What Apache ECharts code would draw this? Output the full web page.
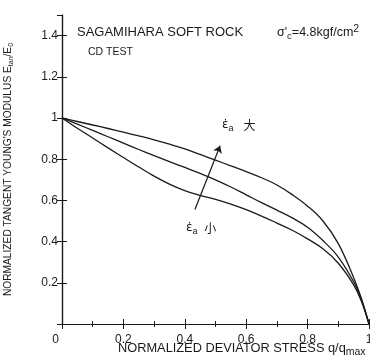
<!DOCTYPE html>
<html>
<head>
<meta charset="utf-8">
<script src="https://cdn.jsdelivr.net/npm/echarts@6/dist/echarts.min.js"></script>
<style>
	html, body { margin: 0; background: #fff; }
	#chart { width: 370px; height: 360px; }
</style>
</head>
<body>
<div id="chart"></div>
<script>
	// 三条曲线 (q/qmax, Etan/E0)
	var stress = [0,0.05,0.1,0.15,0.2,0.25,0.3,0.35,0.4,0.45,0.5,0.55,0.6,0.65,0.7,0.75,0.8,0.85,0.9,0.95,0.975,1];
	var modulusFast = [1,0.983,0.966,0.949,0.931,0.913,0.894,0.873,0.85,0.823,0.795,0.768,0.74,0.71,0.675,0.628,0.572,0.5,0.39,0.225,0.125,0];
	var modulusMid = [1,0.97,0.94,0.909,0.878,0.847,0.817,0.788,0.76,0.731,0.7,0.665,0.627,0.589,0.553,0.515,0.47,0.405,0.325,0.205,0.118,0];
	var modulusSlow = [1,0.95,0.903,0.855,0.808,0.762,0.718,0.679,0.647,0.624,0.605,0.582,0.555,0.524,0.49,0.455,0.413,0.365,0.295,0.19,0.112,0];
	var arrowFrom = [0.433, 0.556];
	var arrowTo = [0.515, 0.865];
	var xTickLabels = ['0', '0.2', '0.4', '0.6', '0.8', '1'];

	var font = '"Liberation Sans", Arial, "Noto Sans CJK JP", sans-serif';
	var ink = '#1a1a1a';

	var chart = echarts.init(document.getElementById('chart'));

	function makeLine(ys, withArrow) {
		var s = {
			type: 'line',
			data: stress.map(function (x, i) { return [x, ys[i]]; }),
			smooth: 0.4,
			showSymbol: false,
			symbol: 'none',
			lineStyle: { color: ink, width: 1.3 },
			silent: true
		};
		if (withArrow) {
			s.markLine = {
				silent: true,
				symbol: ['none', 'arrow'],
				symbolSize: 7,
				label: { show: false },
				lineStyle: { type: 'solid', color: ink, width: 1.2 },
				data: [[{ coord: arrowFrom }, { coord: arrowTo }]]
			};
		}
		return s;
	}

	var epsRich = {
		e: { fontSize: 12, fontFamily: '"DejaVu Sans", sans-serif', lineHeight: 16 },
		s: { fontSize: 9, verticalAlign: 'bottom', lineHeight: 16, fontFamily: font },
		k: { fontSize: 12, fontFamily: '"Noto Sans CJK JP", sans-serif', lineHeight: 16 }
	};

	var option = {
		animation: false,
		backgroundColor: '#fff',
		textStyle: { fontFamily: font },
		grid: { left: 62, right: 1, top: 15, bottom: 36, outerBoundsMode: 'none' },
		xAxis: [{
			type: 'value',
			min: 0, max: 1, interval: 0.2,
			axisLine: { lineStyle: { color: ink, width: 1.2 } },
			axisTick: { inside: true, length: 5, lineStyle: { color: ink } },
			minorTick: { show: true, splitNumber: 2, length: 3, lineStyle: { color: ink } },
			splitLine: { show: false },
			axisLabel: {
				color: ink, fontSize: 12, margin: 10, fontFamily: font,
				formatter: function (v) {
					var i = Math.round(v / 0.2);
					if (i === 0) return '{o|' + xTickLabels[0] + '}';
					return xTickLabels[i];
				},
				rich: { o: { fontSize: 12, padding: [0, 13, 0, 0], fontFamily: font, color: ink } }
			}
		}, {
			type: 'value', position: 'top',
			min: 0, max: 1, interval: 0.2,
			axisLine: { lineStyle: { color: ink, width: 1.2 } },
			axisTick: { inside: true, length: 5, lineStyle: { color: ink } },
			minorTick: { show: true, splitNumber: 2, length: 3, lineStyle: { color: ink } },
			splitLine: { show: false },
			axisLabel: { show: false }
		}],
		yAxis: [{
			type: 'value',
			min: 0, max: 1.5, interval: 0.2,
			name: "NORMALIZED TANGENT YOUNG'S MODULUS E{s|tan}/E{s|0}",
			nameLocation: 'middle',
			nameGap: 47,
			nameRotate: 90,
			nameTextStyle: {
				color: ink, fontSize: 10.2, fontFamily: font,
				rich: { s: { fontSize: 7, verticalAlign: 'bottom', lineHeight: 13, fontFamily: font, color: ink } }
			},
			axisLine: { lineStyle: { color: ink, width: 1.2 } },
			axisTick: { inside: true, length: 5, lineStyle: { color: ink } },
			splitLine: { show: false },
			axisLabel: { color: ink, fontSize: 12, margin: 4, showMinLabel: false, showMaxLabel: false, fontFamily: font }
		}, {
			type: 'value', position: 'right',
			min: 0, max: 1.5, interval: 0.2,
			axisLine: { lineStyle: { color: ink, width: 1.2 } },
			axisTick: { inside: true, length: 5, lineStyle: { color: ink } },
			splitLine: { show: false },
			axisLabel: { show: false }
		}],
		graphic: [
			{ type: 'text', left: 77, top: 26, style: { text: 'SAGAMIHARA SOFT ROCK', font: '13px ' + font, fill: ink } },
			{ type: 'text', left: 88, top: 47, style: { text: 'CD TEST', font: '10.5px ' + font, fill: ink } },
			{ type: 'text', left: 277, top: 24, style: {
				text: "σ'{s|c}=4.8kgf/cm{p|2}", font: '12.5px ' + font, fill: ink,
				rich: {
					s: { fontSize: 9.5, verticalAlign: 'bottom', lineHeight: 17, fontFamily: font },
					p: { fontSize: 10.5, verticalAlign: 'top', lineHeight: 17, fontFamily: font }
				}
			} },
			{ type: 'text', left: 222, top: 119, style: {
				text: '{e|ε̇}{s|a}   {k|大}', font: '12px ' + font, fill: ink, rich: epsRich
			} },
			{ type: 'text', left: 186, top: 222, style: {
				text: '{e|ε̇}{s|a}  {k|小}', font: '12px ' + font, fill: ink, rich: epsRich
			} },
			{ type: 'text', left: 118, top: 342, style: {
				text: 'NORMALIZED DEVIATOR STRESS q/q{s|max}', font: '12.8px ' + font, fill: ink,
				rich: { s: { fontSize: 10.5, verticalAlign: 'bottom', lineHeight: 17, fontFamily: font } }
			} }
		],
		series: [
			makeLine(modulusFast, true),
			makeLine(modulusMid, false),
			makeLine(modulusSlow, false)
		]
	};

	chart.setOption(option);
</script>
</body>
</html>
